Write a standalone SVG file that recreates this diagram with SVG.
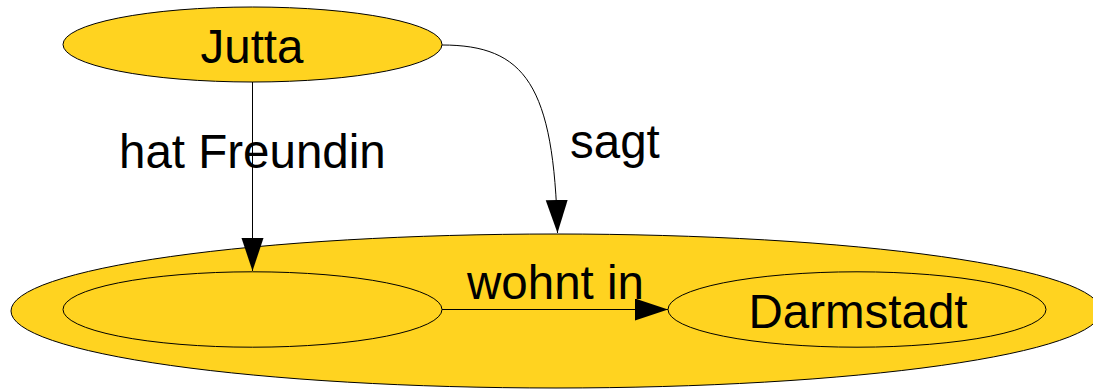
<svg xmlns="http://www.w3.org/2000/svg" width="1093" height="389" viewBox="0 0 1093 389">
<style>
.node{fill:#ffd320;stroke:#000;stroke-width:1}
.edge{fill:none;stroke:#000;stroke-width:1}
text{font-family:"Liberation Sans",Arial,sans-serif;font-size:47.5px;fill:#000}
</style>
<defs>
<marker id="arrow" markerUnits="userSpaceOnUse" markerWidth="34" markerHeight="24" refX="33" refY="11" orient="auto">
<path d="M0,0 L33,11 L0,22 Z" fill="#000"/>
</marker>
</defs>
<g id="group-freundin">
<ellipse class="node" cx="556" cy="311" rx="545" ry="77"/>
</g>
<g id="node-freundin">
<ellipse class="node" cx="252.5" cy="309.5" rx="189.5" ry="37.7"/>
</g>
<g id="node-darmstadt">
<ellipse class="node" cx="857" cy="309.5" rx="189" ry="37.7"/>
<text x="858" y="328" text-anchor="middle">Darmstadt</text>
</g>
<g id="node-jutta">
<ellipse class="node" cx="252.5" cy="44.5" rx="189.5" ry="37.5"/>
<text x="252" y="63" text-anchor="middle">Jutta</text>
</g>
<g id="connectors">
<path class="edge" d="M252.5,82 L252.5,271" marker-end="url(#arrow)"/>
<path class="edge" d="M442,45 C525,45 554,85 557.5,233" marker-end="url(#arrow)"/>
<path class="edge" d="M442,309.5 L668,309.5" marker-end="url(#arrow)"/>
<text x="119" y="168">hat Freundin</text>
<text x="570" y="158">sagt</text>
<text x="467" y="299">wohnt in</text>
</g>
</svg>
